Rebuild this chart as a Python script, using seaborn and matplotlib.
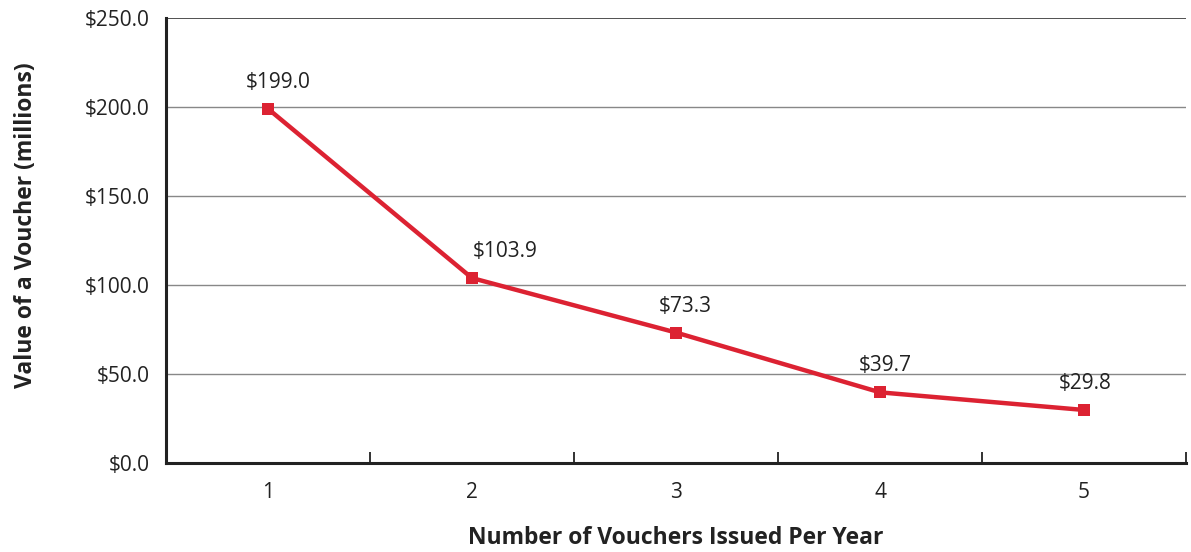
import matplotlib
matplotlib.use("Agg")
import matplotlib.pyplot as plt
import seaborn as sns
import pandas as pd
from matplotlib.ticker import FixedLocator, FuncFormatter

# Data
vouchers = ["1", "2", "3", "4", "5"]
values = [199.0, 103.9, 73.3, 39.7, 29.8]
y_ticks = [0, 50, 100, 150, 200, 250]
label_dx = [7, 24, 7, 4, 1]  # horizontal nudge of each value label, in points

sns.set_theme(style="white")
plt.rcParams["font.family"] = ["Open Sans", "DejaVu Sans"]

df = pd.DataFrame({"pos": range(len(vouchers)), "value": values})

fig = plt.figure(figsize=(11.91, 5.52), dpi=100)
ax = fig.add_axes([0.1394, 0.1612, 0.8564, 0.8062])

red = "#DC2232"
sns.lineplot(data=df, x="pos", y="value", ax=ax, color=red, linewidth=3.2,
             marker="s", markersize=8, markeredgewidth=0, zorder=3)

for i, v in enumerate(values):
    ax.annotate(f"${v:.1f}", (i, v), xytext=(label_dx[i], 19),
                textcoords="offset points", ha="center", va="center",
                fontsize=15, color="#222222")

ax.set_xlim(-0.5, len(vouchers) - 0.5)
ax.set_ylim(0, 250)
ax.set_yticks(y_ticks)
ax.yaxis.set_major_formatter(FuncFormatter(lambda v, _: f"${v:.1f}"))
ax.set_xticks(range(len(vouchers)))
ax.set_xticklabels(vouchers)
ax.xaxis.set_minor_locator(FixedLocator([i + 0.5 for i in range(len(vouchers))]))

ax.tick_params(axis="x", which="major", length=0, pad=14, labelsize=15, labelcolor="#222222")
ax.tick_params(axis="x", which="minor", direction="in", length=8, width=1.3, color="#222222", bottom=True)
ax.tick_params(axis="y", length=0, pad=12, labelsize=15, labelcolor="#222222")

for y in y_ticks[1:-1]:
    ax.axhline(y, color="#888888", linewidth=1.0, zorder=1)
ax.axhline(250, color="#222222", linewidth=1.1, zorder=1)

for side in ["top", "right"]:
    ax.spines[side].set_visible(False)
for side in ["left", "bottom"]:
    ax.spines[side].set_color("#222222")
    ax.spines[side].set_linewidth(2.2)

ax.set_xlabel("Number of Vouchers Issued Per Year", fontsize=16.5, fontweight="bold",
              color="#222222", labelpad=16)
ax.set_ylabel("Value of a Voucher (millions)", fontsize=16.5, fontweight="bold",
              color="#222222")
ax.yaxis.set_label_coords(-0.126, 0.534)

fig.savefig("out.png", dpi=100)
